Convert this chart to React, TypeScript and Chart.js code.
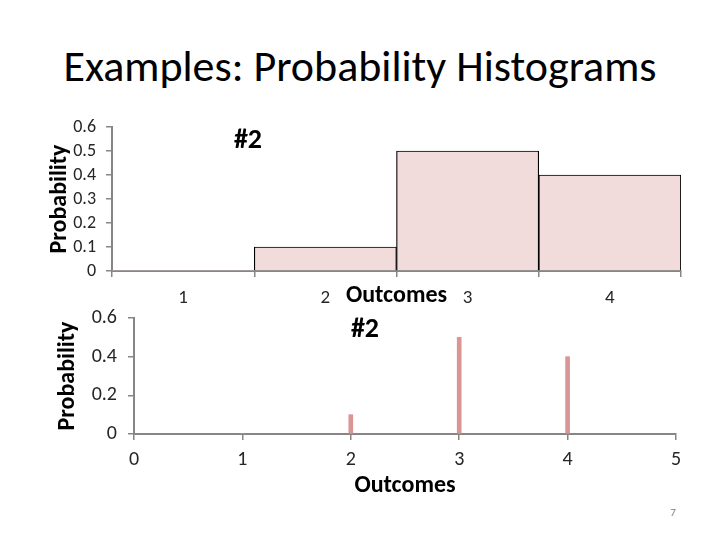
import React, { useEffect, useRef } from "react";
import { Chart, registerables } from "chart.js";

Chart.register(...registerables);

// ---- data ----
const slideTitle = "Examples: Probability Histograms";
const chartLabel = "#2";
const pageNumber = "7";
const histCategories = ["1", "2", "3", "4"];
const histValues = [0, 0.1, 0.5, 0.4];
const stemOutcomes = [1, 2, 3, 4];
const stemValues = [0, 0.1, 0.5, 0.4];
const yTitle = "Probability";
const xTitle = "Outcomes";

const FONT = "Carlito, Lato, sans-serif";
const AXIS = "#868686";
const TICK_TXT = "#262626";

const fixV = (w: number) => (s: any) => {
  s.width = w;
  s.paddingTop = 0;
  s.paddingBottom = 0;
};
const fixH = (h: number) => (s: any) => {
  s.height = h;
  s.paddingLeft = 0;
  s.paddingRight = 0;
};

function TopChart() {
  const ref = useRef<HTMLCanvasElement>(null);
  useEffect(() => {
    const chart = new Chart(ref.current!, {
      type: "bar",
      data: {
        labels: histCategories,
        datasets: [
          {
            data: histValues,
            backgroundColor: "#f2dcdb",
            borderColor: "#000000",
            borderWidth: (c: any) => (c.raw === 0 ? 0 : 1.2),
            barPercentage: 1,
            categoryPercentage: 1,
          },
        ],
      },
      options: {
        animation: false,
        responsive: false,
        events: [],
        layout: { padding: { left: 0, right: 39, top: 27, bottom: 0 } },
        plugins: { legend: { display: false }, tooltip: { enabled: false }, title: { display: false } },
        scales: {
          x: {
            type: "category",
            offset: true,
            z: 1,
            afterFit: fixH(39),
            grid: { offset: true, drawOnChartArea: false, drawTicks: true, tickLength: 6, color: AXIS, lineWidth: 1.5 },
            border: { color: AXIS, width: 2 },
            ticks: { font: { family: FONT, size: 19 }, color: TICK_TXT, padding: 10, autoSkip: false },
            title: { display: true, text: xTitle, font: { family: FONT, size: 24, weight: "bold" }, color: "#000", padding: { top: 0, bottom: 0 } },
          },
          y: {
            min: 0,
            max: 0.6,
            z: 1,
            afterFit: fixV(112),
            grid: { drawOnChartArea: false, drawTicks: true, tickLength: 6, color: AXIS, lineWidth: 1.5 },
            border: { color: AXIS, width: 2 },
            ticks: { stepSize: 0.1, font: { family: FONT, size: 18 }, color: TICK_TXT, padding: 10, autoSkip: false },
            title: { display: true, text: yTitle, font: { family: FONT, size: 24, weight: "bold" }, color: "#000", padding: { top: 46, bottom: 0 } },
          },
        },
      } as any,
    });
    return () => chart.destroy();
  }, []);
  return <canvas ref={ref} width={720} height={210} style={{ position: "absolute", left: 0, top: 100, width: 720, height: 210 }} />;
}

function BottomChart() {
  const ref = useRef<HTMLCanvasElement>(null);
  useEffect(() => {
    const chart = new Chart(ref.current!, {
      type: "bar",
      data: {
        datasets: [
          {
            data: stemOutcomes.map((x, i) => ({ x, y: stemValues[i] })),
            backgroundColor: "#d99694",
            borderWidth: 0,
            barThickness: 4,
          },
        ],
      },
      options: {
        animation: false,
        responsive: false,
        events: [],
        layout: { padding: { left: 0, right: 44, top: 18, bottom: 0 } },
        plugins: { legend: { display: false }, tooltip: { enabled: false }, title: { display: false } },
        scales: {
          x: {
            type: "linear",
            min: 0,
            max: 5,
            offset: false,
            z: 1,
            afterFit: fixH(71),
            grid: { offset: false, drawOnChartArea: false, drawTicks: true, tickLength: 6, color: AXIS, lineWidth: 1.5 },
            border: { color: AXIS, width: 2 },
            ticks: { stepSize: 1, font: { family: FONT, size: 20 }, color: TICK_TXT, padding: 8, autoSkip: false },
            title: { display: true, text: xTitle, font: { family: FONT, size: 24, weight: "bold" }, color: "#000", padding: { top: 0, bottom: 5 } },
          },
          y: {
            min: 0,
            max: 0.6,
            z: 1,
            afterFit: fixV(134),
            grid: { drawOnChartArea: false, drawTicks: true, tickLength: 6, color: AXIS, lineWidth: 1.5 },
            border: { color: AXIS, width: 2 },
            ticks: { stepSize: 0.2, font: { family: FONT, size: 20 }, color: TICK_TXT, padding: 11, autoSkip: false },
            title: { display: true, text: yTitle, font: { family: FONT, size: 24, weight: "bold" }, color: "#000", padding: { top: 54, bottom: 0 } },
          },
        },
      } as any,
    });
    return () => chart.destroy();
  }, []);
  return <canvas ref={ref} width={720} height={205} style={{ position: "absolute", left: 0, top: 300, width: 720, height: 205 }} />;
}

export default function App() {
  return (
    <div style={{ position: "absolute", left: 0, top: 0, width: 720, height: 540, background: "#fff", overflow: "hidden", fontFamily: FONT }}>
      <div style={{ position: "absolute", left: 0, top: 41, width: 720, textAlign: "center", fontSize: 44, lineHeight: "50px", color: "#000" }}>
        {slideTitle}
      </div>
      <TopChart />
      <BottomChart />
      <div style={{ position: "absolute", left: 198, top: 124, width: 100, textAlign: "center", fontSize: 28, fontWeight: "bold", lineHeight: "30px" }}>
        {chartLabel}
      </div>
      <div style={{ position: "absolute", left: 315, top: 313, width: 100, textAlign: "center", fontSize: 28, fontWeight: "bold", lineHeight: "30px" }}>
        {chartLabel}
      </div>
      <div style={{ position: "absolute", left: 653, top: 506, width: 40, textAlign: "center", fontSize: 11, lineHeight: "14px", color: "#7f7f7f" }}>
        {pageNumber}
      </div>
    </div>
  );
}
